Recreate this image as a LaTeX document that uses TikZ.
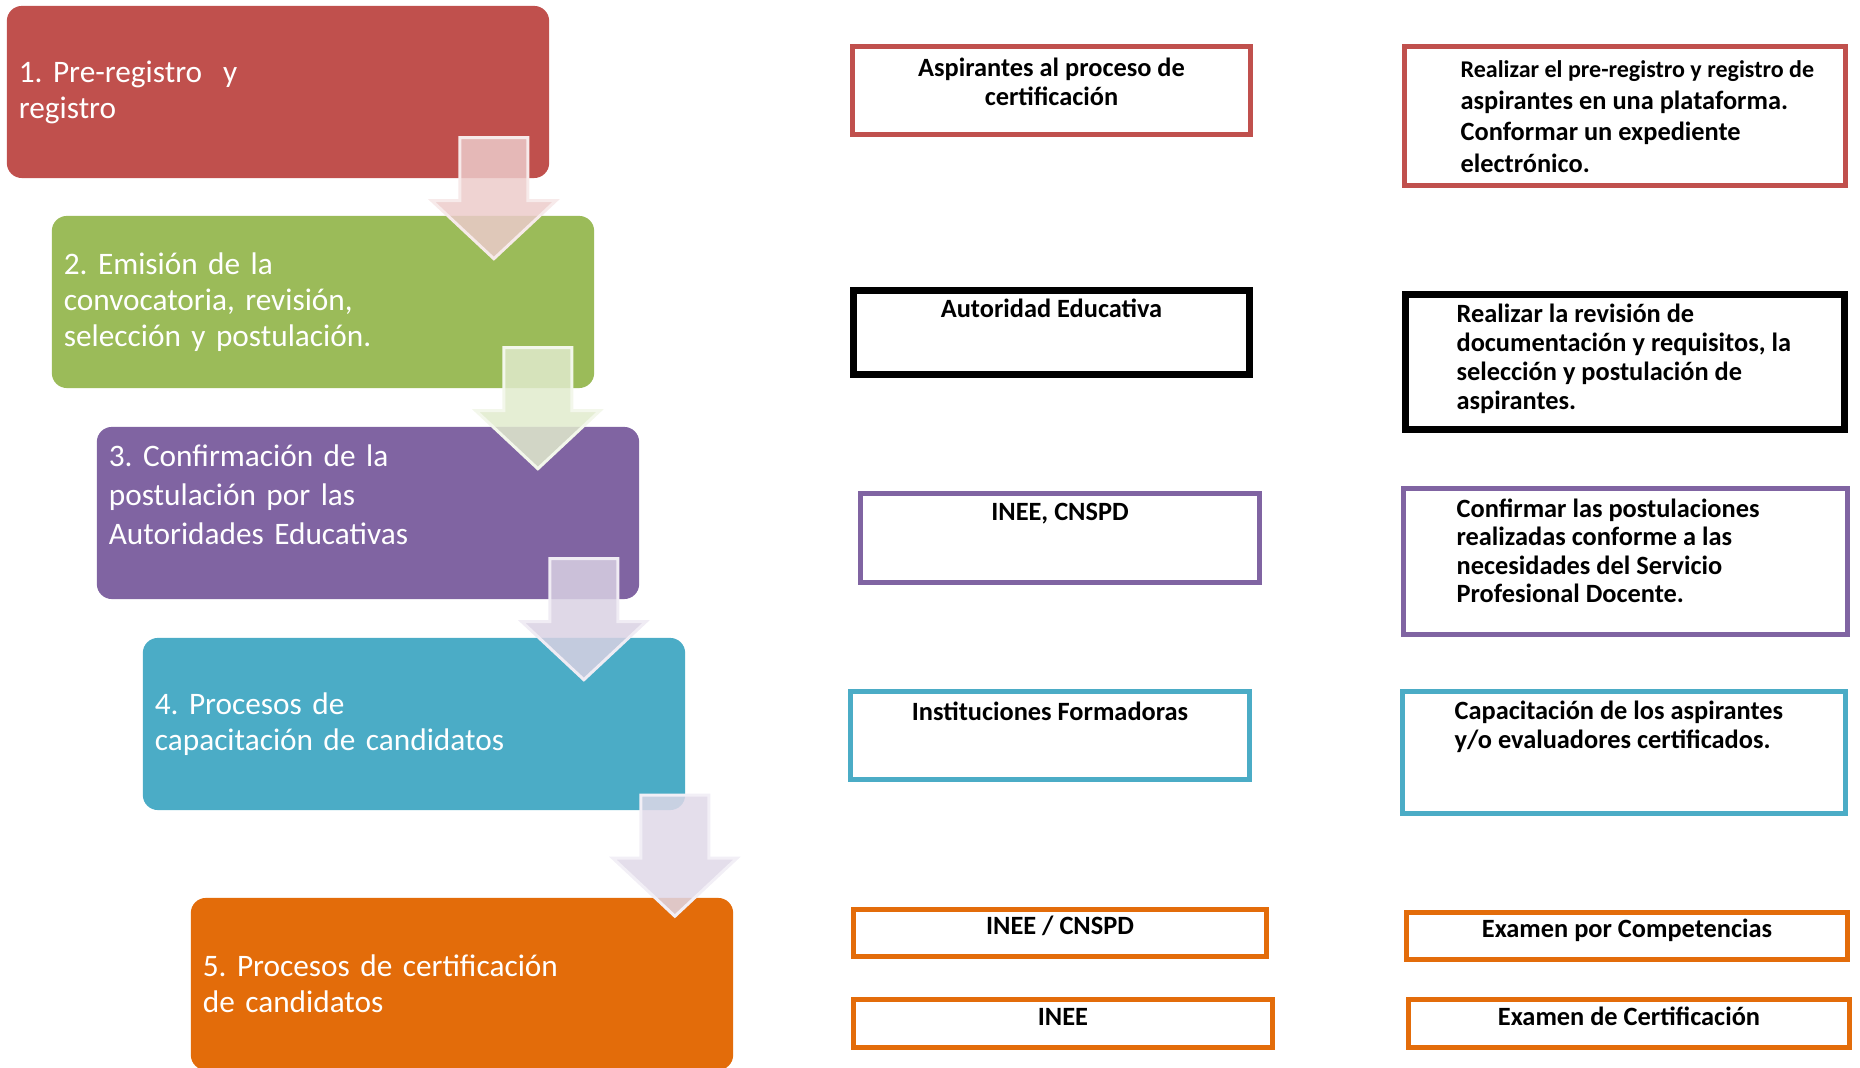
\documentclass[tikz,border=0pt]{standalone}
\usepackage{fontspec}
\setmainfont{Carlito}
\usetikzlibrary{positioning,calc}

\definecolor{pasored}{HTML}{C0504D}
\definecolor{pasogreen}{HTML}{9BBB59}
\definecolor{pasopurple}{HTML}{8064A2}
\definecolor{pasoblue}{HTML}{4BACC6}
\definecolor{pasoorange}{HTML}{E36C0A}

\begin{document}
\frenchspacing
\begin{tikzpicture}[x=0.01cm,y=-0.01cm,
    proc/.style={rounded corners=0.15cm, minimum width=5.42cm, minimum height=1.72cm, text width=5.18cm, inner xsep=0.12cm, align=left, text=white, font=\fontsize{8.9}{10.24}\selectfont},
    who/.style={draw, line width=0.05cm, inner sep=0},
    lbl/.style={inner sep=0, font=\bfseries\fontsize{7.5}{8.25}\selectfont},
    onebox/.style={who, draw=pasoorange, minimum height=0.47cm, text height=0.19cm, text depth=0.15cm, font=\bfseries\fontsize{7.5}{8.25}\selectfont},
    flow/.style={fill opacity=0.85, line width=0.03cm},
    flowarrow/.pic={\path[pic actions] (-34,0) -- (34,0) -- (34,63) -- (62,63) -- (0,121) -- (-62,63) -- (-34,63) -- cycle;}]

    \useasboundingbox (0,0) rectangle (1860,1068);

    % pasos
    \node [proc, fill=pasored] (P1) at (278,92) {1. Pre-registro~ y\\registro};
    \node [proc, fill=pasogreen] (P2) at (323,302) {2. Emisión de la\\convocatoria, revisión,\\selección y postulación.};
    \node [proc, fill=pasopurple, text depth=1.14cm, font=\fontsize{8.9}{11.1}\selectfont] (P3) at (368,513) {3. Confirmación de la\\postulación por las\\Autoridades Educativas};
    \node [proc, fill=pasoblue] (P4) at (414,724) {4. Procesos de\\capacitación de candidatos};
    \node [proc, fill=pasoorange] (P5) at (462,984) {5. Procesos de certificación\\de candidatos};

    \pic [flow, fill=pasored!30, draw=pasored!12] at ($(P1.south east)+(-56,-41)$) {flowarrow};
    \pic [flow, fill=pasogreen!30, draw=pasogreen!12] at ($(P2.south east)+(-57,-41)$) {flowarrow};
    \pic [flow, fill=pasopurple!30, draw=pasopurple!12] at ($(P3.south east)+(-56,-41)$) {flowarrow};
    \pic [flow, fill=pasopurple!25, draw=pasopurple!10] at ($(P5.north east)+(-59,-102)$) {flowarrow};

    % responsables
    \node [who, draw=pasored, minimum width=3.98cm, minimum height=0.88cm] (A1) at (1051.5,90.5) {};
    \node [lbl, align=center] (A1-t) [below=0.13cm of A1.north] {Aspirantes al proceso de\\certificación};

    \node [who, line width=0.07cm, minimum width=3.96cm, minimum height=0.84cm] (A2) at (1051.5,332.5) {};
    \node [lbl] (A2-t) [below=0.11cm of A2.north] {Autoridad Educativa};

    \node [who, draw=pasopurple, minimum width=3.99cm, minimum height=0.89cm] (A3) at (1060,538) {};
    \node [lbl] (A3-t) [below=0.12cm of A3.north] {INEE, CNSPD};

    \node [who, draw=pasoblue, minimum width=3.99cm, minimum height=0.88cm] (A4) at (1050,735.5) {};
    \node [lbl] (A4-t) [below=0.12cm of A4.north] {Instituciones Formadoras};

    \node [onebox, minimum width=4.13cm] (A5) at (1060,933) {INEE / CNSPD};
    \node [onebox, minimum width=4.19cm] (A6) at (1063,1023.5) {INEE};

    % actividades
    \node [who, draw=pasored, minimum width=4.41cm, minimum height=1.39cm] (T1) at (1625,116) {};
    \node [lbl, align=left, font=\bfseries\fontsize{7.5}{9}\selectfont] (T1-t) [below right=0.16cm and 0.58cm of T1.north west] {\fontsize{6.83}{9}\selectfont Realizar el pre-registro y registro de\\aspirantes en una plataforma.\\\fontsize{7.5}{9}\selectfont Conformar un expediente\\electrónico.};

    \node [who, line width=0.07cm, minimum width=4.39cm, minimum height=1.35cm] (T2) at (1625,362) {};
    \node [lbl, align=left] (T2-t) [below right=0.12cm and 0.54cm of T2.north west] {Realizar la revisión de\\documentación y requisitos, la\\selección y postulación de\\aspirantes.};

    \node [who, draw=pasopurple, minimum width=4.44cm, minimum height=1.46cm] (T3) at (1625.5,561.5) {};
    \node [lbl, align=left, font=\bfseries\fontsize{7.5}{8.1}\selectfont] (T3-t) [below right=0.12cm and 0.55cm of T3.north west] {Confirmar las postulaciones\\realizadas conforme a las\\necesidades del Servicio\\Profesional Docente.};

    \node [who, draw=pasoblue, minimum width=4.43cm, minimum height=1.22cm] (T4) at (1624,752.5) {};
    \node [lbl, align=left] (T4-t) [below right=0.11cm and 0.54cm of T4.north west] {Capacitación de los aspirantes\\y/o evaluadores certificados.};

    \node [onebox, minimum width=4.41cm] (T5) at (1627,936) {Examen por Competencias};
    \node [onebox, minimum width=4.41cm] (T6) at (1629,1023.5) {Examen de Certificación};

\end{tikzpicture}
\end{document}
